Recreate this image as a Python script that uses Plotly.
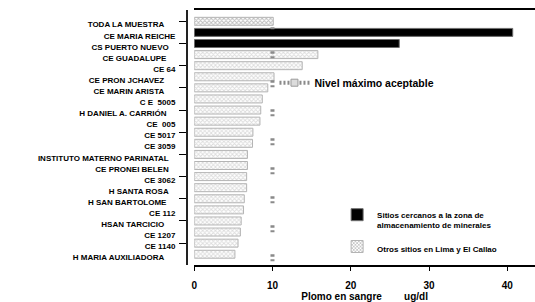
import plotly.graph_objects as go

# ---------------- data ----------------
CATEGORIES = [
    "TODA LA MUESTRA", "CE MARIA REICHE", "CS PUERTO NUEVO", "CE GUADALUPE",
    "CE 64", "CE PRON JCHAVEZ", "CE MARIN ARISTA", "C E  5005",
    "H DANIEL A. CARRIÓN", "CE  005", "CE 5017", "CE 3059",
    "INSTITUTO MATERNO PARINATAL", "CE PRONEI BELEN", "CE 3062", "H SANTA ROSA",
    "H SAN BARTOLOME", "CE 112", "HSAN TARCICIO", "CE 1207", "CE 1140",
    "H MARIA AUXILIADORA",
]
VALUES = [10.1, 40.7, 26.2, 15.8, 13.8, 10.2, 9.4, 8.7, 8.5, 8.4, 7.5, 7.45,
          6.8, 6.8, 6.7, 6.7, 6.4, 6.3, 6.0, 5.9, 5.6, 5.2]
NEAR_MINERALS = ["CE MARIA REICHE", "CS PUERTO NUEVO"]
LIMIT = 10
X_TICKS = [0, 10, 20, 30, 40]

NAME_NEAR = "Sitios cercanos a la zona de<br>almacenamiento de minerales"
NAME_OTHER = "Otros sitios en Lima y El Callao"
NAME_LIMIT = "Nivel máximo aceptable"
X_TITLE = "Plomo en sangre\u00a0\u00a0\u00a0\u00a0\u00a0\u00a0\u00a0\u00a0ug/dl"

# label right-padding (non-breaking spaces) to mimic original alignment
LABEL_PAD = [5, 0, 3, 4, 0, 5, 5, 0, 4, 0, 0, 0, 3, 3, 0, 3, 4, 0, 5, 0, 0, 5]

# ---------------- figure ----------------
W, H = 535, 302
FONT = "Arial, 'Liberation Sans', sans-serif"
N = len(CATEGORIES)

near_y = [c for c in CATEGORIES if c in NEAR_MINERALS]
near_x = [v for c, v in zip(CATEGORIES, VALUES) if c in NEAR_MINERALS]
oth_y = [c for c in CATEGORIES if c not in NEAR_MINERALS]
oth_x = [v for c, v in zip(CATEGORIES, VALUES) if c not in NEAR_MINERALS]
oth_fg = ["#7a7a7a" if c == "TODA LA MUESTRA" else "#b8b8b8" for c in oth_y]

fig = go.Figure()
fig.add_trace(go.Bar(
    orientation="h", y=near_y, x=near_x, name=NAME_NEAR,
    marker=dict(color="black", line=dict(color="#6e6e6e", width=1)),
    legend="legend", legendgroup="a", hoverinfo="skip",
))
fig.add_trace(go.Bar(
    orientation="h", y=oth_y, x=oth_x, name=NAME_OTHER,
    marker=dict(color="white", line=dict(color="#b4b4b4", width=1),
                pattern=dict(shape="x", fgcolor=oth_fg, bgcolor="white",
                             size=3, solidity=0.5)),
    legend="legend", legendgroup="b", hoverinfo="skip",
))
# legend entry for the limit line
fig.add_trace(go.Scatter(
    x=[None], y=[None], mode="lines+markers", name=NAME_LIMIT,
    line=dict(color="#8a8a8a", width=4, dash="2px,2px"),
    marker=dict(symbol="square", size=7, color="#dcdcdc",
                line=dict(color="#9a9a9a", width=1)),
    legend="legend2", hoverinfo="skip",
))
# invisible trace to hold the label axis
fig.add_trace(go.Scatter(x=[None], y=[None], yaxis="y2", showlegend=False,
                         hoverinfo="skip"))

# limit line
fig.add_shape(type="line", xref="x", yref="paper", x0=LIMIT, x1=LIMIT,
              y0=0.015, y1=0.94,
              line=dict(color="#8a8a8a", width=4, dash="2px,2.5px,2.5px,22px"))

x0_px, axis_px = 192.3, 185.0
px_per_unit = 7.87
x_max = (W - x0_px) / px_per_unit

Y_TOP, Y_BOT = -1.02, 21.97
SHIFT = 0.3

ticktext = [c + "\u00a0" * p for c, p in zip(CATEGORIES, LABEL_PAD)]

fig.update_layout(
    width=W, height=H,
    margin=dict(l=0, r=0, t=10, b=37),
    paper_bgcolor="white", plot_bgcolor="white",
    font=dict(family=FONT, color="black"),
    barmode="overlay", bargap=0.28,
    xaxis=dict(
        domain=[x0_px / W, 1], range=[0, x_max],
        tickvals=X_TICKS, showgrid=False, zeroline=False,
        showline=True, linecolor="black", linewidth=2, mirror=True,
        ticks="outside", ticklen=4, tickwidth=1, tickcolor="black",
        tickfont=dict(size=10, weight="bold"), ticklabelstandoff=6,
        title=dict(text=X_TITLE, font=dict(size=10, weight="bold"), standoff=2),
    ),
    yaxis=dict(
        type="category", categoryorder="array", categoryarray=CATEGORIES,
        range=[Y_BOT, Y_TOP], anchor="free", position=axis_px / W,
        showgrid=False, zeroline=False, showline=True, linecolor="#222",
        linewidth=1.5, ticks="outside", ticklen=7, tickwidth=1,
        tickcolor="black", showticklabels=False,
    ),
    yaxis2=dict(
        overlaying="y", anchor="free", position=axis_px / W,
        range=[Y_BOT - SHIFT, Y_TOP - SHIFT],
        tickvals=list(range(N)), ticktext=ticktext,
        showgrid=False, zeroline=False, showline=False,
        ticks="outside", ticklen=7, tickcolor="rgba(0,0,0,0)",
        tickfont=dict(size=8, weight="bold"), ticklabelstandoff=3,
    ),
    legend=dict(
        x=336 / W, y=(265 - 203) / 255, xanchor="left", yanchor="top",
        bgcolor="rgba(0,0,0,0)", borderwidth=0, valign="top",
        font=dict(size=8, weight="bold"), tracegroupgap=8,
        traceorder="grouped",
    ),
    legend2=dict(
        x=273 / W, y=(265 - 82.7) / 255, xanchor="left", yanchor="middle",
        bgcolor="rgba(0,0,0,0)", borderwidth=0,
        font=dict(size=10.5, weight="bold"),
    ),
)

fig.write_html("out.html", config={"displayModeBar": False},
               post_script="document.body.style.margin='0';"
                           "document.body.style.padding='0';")
